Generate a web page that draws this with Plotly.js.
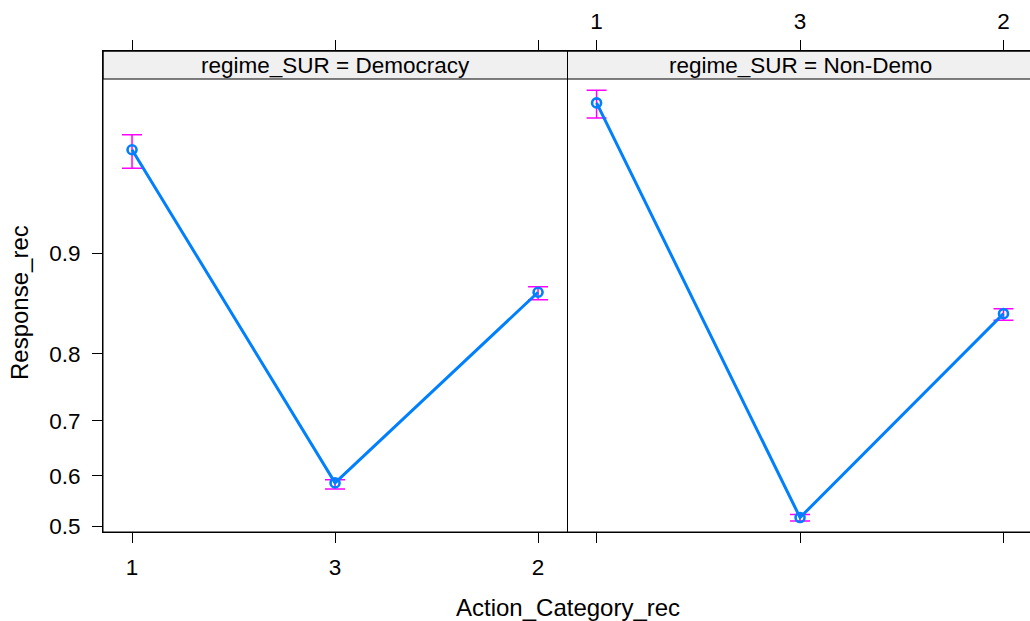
<!DOCTYPE html>
<html>
<head>
<meta charset="utf-8">
<script src="https://cdn.plot.ly/plotly-3.0.1.min.js"></script>
<style>html,body{margin:0;padding:0;overflow:hidden;background:#fff;}</style>
</head>
<body>
<div id="chart"></div>
<script>
// Data (probabilities)
const categories = ["1", "3", "2"];
const panels = ["Democracy", "Non-Demo"];
const demFit   = [0.954, 0.586, 0.868];
const demLower = [0.947, 0.574, 0.861];
const demUpper = [0.959, 0.592, 0.873];
const ndFit    = [0.968, 0.517, 0.847];
const ndLower  = [0.964, 0.510, 0.840];
const ndUpper  = [0.971, 0.523, 0.852];
const yTickVals = [0.5, 0.6, 0.7, 0.8, 0.9];
const yTickText = ["0.5", "0.6", "0.7", "0.8", "0.9"];

const logit = p => Math.log(p / (1 - p));
const xIdx = categories.map((c, i) => i);

function trace(fit, lo, hi, xa) {
  const yl = fit.map(logit);
  return {
    type: "scatter", mode: "lines+markers",
    x: xIdx, y: yl, xaxis: xa, yaxis: "y",
    line: {color: "#0080ff", width: 3},
    marker: {symbol: "circle-open", size: 9, color: "#0080ff", line: {width: 2.6, color: "#0080ff"}},
    error_y: {type: "data", symmetric: false,
      array: hi.map((v, i) => logit(v) - yl[i]),
      arrayminus: lo.map((v, i) => yl[i] - logit(v)),
      color: "#ff00ff", thickness: 1.5, width: 10},
    showlegend: false, hoverinfo: "skip"
  };
}

const fam = "'Liberation Sans', Arial, Helvetica, sans-serif";
const font = {family: fam, size: 22.5, color: "#000"};
const titleFont = {family: fam, size: 24, color: "#000"};
const W = 1033, H = 621;
const mL = 103, mT = 51, mB = 89;
const plotW = W - mL, plotH = H - mT - mB;
const split = 464.5 / plotW;
const pxPerUnit = 124.1;
const yBottomPx = 526; // pixel of p=0.5
const yMin = (yBottomPx - (H - mB)) / pxPerUnit;
const yMax = (yBottomPx - mT) / pxPerUnit;
const stripFrac = ((H - mB) - 79) / plotH;
const xr = [-0.143, 2.145];

const xCommon = {
  range: xr, tickmode: "array", tickvals: xIdx, ticktext: categories,
  ticks: "outside", ticklen: 10, tickwidth: 1, tickcolor: "#000",
  showline: true, linecolor: "#000", linewidth: 1, mirror: "ticks",
  showgrid: false, zeroline: false, tickfont: font, fixedrange: true
};

const layout = {
  width: W, height: H,
  margin: {l: mL, r: 0, t: mT, b: mB, pad: 0},
  paper_bgcolor: "#fff", plot_bgcolor: "#fff",
  font: font,
  xaxis: Object.assign({}, xCommon, {domain: [0, split], anchor: "y", side: "bottom", ticklabelstandoff: 5}),
  xaxis2: Object.assign({}, xCommon, {domain: [split, 1], anchor: "y", side: "top", ticklabelstandoff: 2}),
  yaxis: {
    range: [yMin, yMax], tickmode: "array",
    tickvals: yTickVals.map(logit), ticktext: yTickText,
    ticks: "outside", ticklen: 10, tickwidth: 1, tickcolor: "#000",
    showline: true, linecolor: "#000", linewidth: 1, mirror: false,
    showgrid: false, zeroline: false, tickfont: font, ticklabelstandoff: 7, fixedrange: true
  },
  shapes: [],
  annotations: [
    {text: "Action_Category_rec", xref: "paper", yref: "paper", x: 0.5, y: -(607 - (H - mB)) / plotH,
     xanchor: "center", yanchor: "middle", showarrow: false, font: titleFont},
    {text: "Response_rec", xref: "paper", yref: "paper", x: -(mL - 19) / plotW, y: ((H - mB) - 303) / plotH,
     xanchor: "center", yanchor: "middle", textangle: -90, showarrow: false, font: titleFont}
  ]
};

["x", "x2"].forEach((xa, k) => {
  layout.shapes.push({type: "rect", xref: xa + " domain", yref: "paper", x0: 0, x1: 1, y0: stripFrac, y1: 1,
    fillcolor: "#f0f0f0", line: {color: "#000", width: 1}, layer: "below"});
  layout.shapes.push({type: "rect", xref: xa + " domain", yref: "paper", x0: 0, x1: 1, y0: 0, y1: 1,
    fillcolor: "rgba(0,0,0,0)", line: {color: "#000", width: 1}, layer: "above"});
  layout.annotations.push({text: "regime_SUR = " + panels[k], xref: xa + " domain", yref: "paper",
    x: 0.5, y: (stripFrac + 1) / 2, xanchor: "center", yanchor: "middle", showarrow: false, font: font});
});

const data = [trace(demFit, demLower, demUpper, "x"), trace(ndFit, ndLower, ndUpper, "x2")];
Plotly.newPlot("chart", data, layout, {displayModeBar: false, staticPlot: true});
</script>
</body>
</html>
